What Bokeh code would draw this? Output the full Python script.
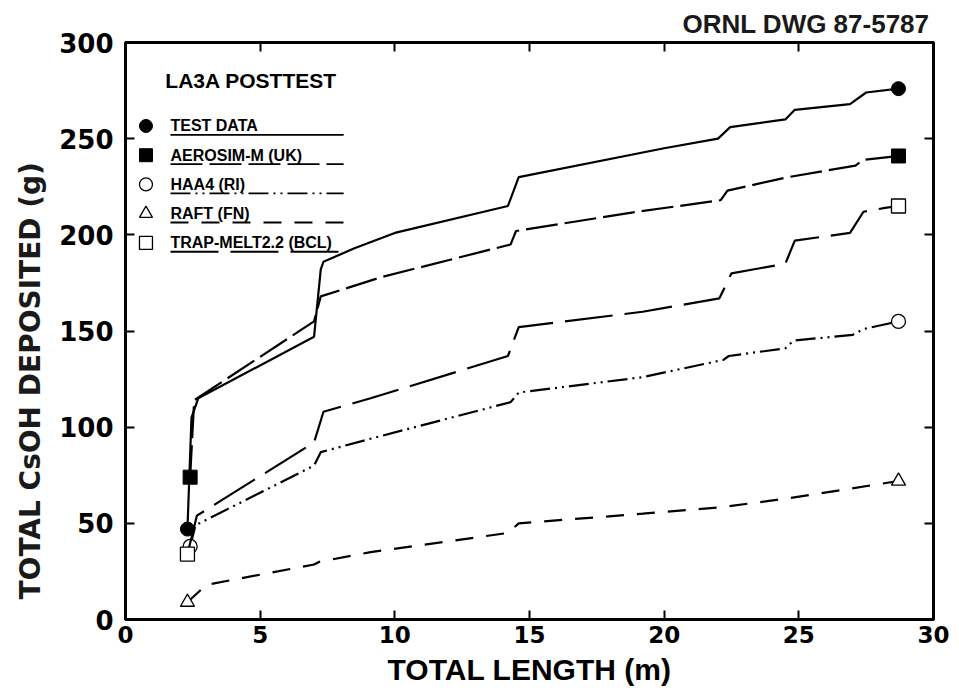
from bokeh.plotting import figure
from bokeh.models import LinearAxis, Range1d, FixedTicker, Title
from bokeh.embed import file_html
from bokeh.resources import INLINE
from bokeh.core.properties import value

# ---- data ----
x_ticks = [0, 5, 10, 15, 20, 25, 30]
y_ticks = [0, 50, 100, 150, 200, 250, 300]

test_x = [2.3, 2.45, 2.7, 7.0, 7.25, 7.35, 8.5, 10.0, 14.2, 14.6, 20.0, 22.0, 22.45, 24.5, 24.85, 26.9, 27.5, 28.7]
test_y = [47, 105, 115, 147, 182, 186, 193, 201, 215, 230, 245, 250, 256, 260, 265, 268, 274, 276]

aero_x = [2.4, 2.55, 7.0, 7.25, 9.5, 14.3, 14.5, 19.0, 22.1, 22.35, 24.6, 27.1, 27.4, 28.7]
aero_y = [74, 114, 155, 168, 178, 195, 202, 212, 218, 223, 230, 236, 239, 241]

haa_x = [2.4, 2.6, 7.0, 7.25, 9.1, 14.3, 14.6, 19.2, 22.2, 22.4, 24.5, 24.8, 27.0, 27.4, 28.7]
haa_y = [38, 49, 80, 87, 94, 113, 118, 126, 135, 137, 141, 145, 148, 151, 155]

raft_x = [2.3, 3.0, 7.0, 7.2, 9.1, 14.2, 14.6, 19.2, 22.2, 24.6, 26.9, 28.7]
raft_y = [9, 18, 28.6, 30, 35, 45, 50, 55, 58.5, 63, 68, 72]

trap_x = [2.3, 2.65, 7.0, 7.35, 9.1, 14.2, 14.6, 19.2, 22.05, 22.5, 24.5, 24.85, 26.9, 27.4, 28.2, 28.7]
trap_y = [34, 54, 92, 108, 115, 137, 152, 160, 167, 180, 185, 197, 201, 212, 214, 215]

series_names = ["TEST DATA", "AEROSIM-M (UK)", "HAA4 (RI)", "RAFT (FN)", "TRAP-MELT2.2 (BCL)"]
legend_title = "LA3A POSTTEST"
drawing_id = "ORNL DWG 87-5787"
x_title = "TOTAL LENGTH (m)"
y_title = "TOTAL CsOH DEPOSITED (g)"

# ---- styles ----
FONT = "Liberation Sans"
styles = [
    dict(dash="solid", marker="circle", fill="black"),
    dict(dash="32 7", marker="square", fill="black"),
    dict(dash="20 5 2 5 2 5", marker="circle", fill="white"),
    dict(dash="18 13", marker="triangle", fill="white"),
    dict(dash="48 12", marker="square", fill="white"),
]
series = [(test_x, test_y), (aero_x, aero_y), (haa_x, haa_y), (raft_x, raft_y), (trap_x, trap_y)]

p = figure(width=952, height=688, x_range=Range1d(0, 30), y_range=Range1d(0, 300),
           output_backend="svg", toolbar_location=None,
           min_border_left=125, min_border_right=19, min_border_top=42, min_border_bottom=68)
p.grid.visible = False
p.background_fill_color = "white"
p.border_fill_color = "white"
p.outline_line_color = "black"
p.outline_line_width = 3

for ax, ticks in ((p.xaxis[0], x_ticks), (p.yaxis[0], y_ticks)):
    ax.ticker = FixedTicker(ticks=ticks)
    ax.major_tick_in = 9
    ax.major_tick_out = 0
    ax.major_tick_line_width = 2
    ax.minor_tick_line_color = None
    ax.axis_line_width = 3
    ax.major_label_text_font_style = "bold"
    ax.major_label_text_color = "black"
    ax.major_label_text_font = "DejaVu Sans"

p.xaxis.axis_label = x_title
p.xaxis.major_label_text_font_size = "23px"
p.xaxis.major_label_standoff = 6
p.xaxis.axis_label_text_font = FONT
p.xaxis.axis_label_text_font_size = "30px"
p.xaxis.axis_label_text_font_style = "bold"
p.xaxis.axis_label_text_color = "black"
p.xaxis.axis_label_standoff = 7

p.yaxis.major_label_text_font_size = "26px"
p.yaxis.major_label_standoff = 12
p.yaxis.major_label_orientation = "horizontal"

for loc, ticks in (("right", y_ticks), ("above", x_ticks)):
    ax = LinearAxis(ticker=FixedTicker(ticks=ticks), major_label_text_font_size="1px",
                    major_label_text_color=None, major_label_standoff=0,
                    major_tick_in=9, major_tick_out=0, major_tick_line_width=2,
                    minor_tick_line_color=None, axis_line_width=3)
    p.add_layout(ax, loc)

# y-axis title: starts a little above the frame bottom, as in the reference
p.add_layout(Title(text=y_title, align="left", offset=20, standoff=20,
                   text_font="DejaVu Sans", text_font_size="28px",
                   text_font_style="bold", text_color="#1a1a1a"), "left")
# drawing number at the top right, pushed to the top of the border
p.add_layout(Title(text=drawing_id, align="right", offset=4, standoff=4,
                   vertical_align="top",
                   text_font=FONT, text_font_size="26px",
                   text_font_style="bold", text_color="#1a1a1a"), "above")

for (xs, ys), st in zip(series, styles):
    p.line(xs, ys, line_color="black", line_width=2.2, line_dash=st["dash"])
    lw = 1.3 if st["fill"] == "white" else 1
    p.scatter([xs[0], xs[-1]], [ys[0], ys[-1]], marker=st["marker"], size=14,
              fill_color=st["fill"], line_color="black", line_width=lw)

# ---- legend block (drawn in data space) ----
leg_marker_x = 0.76
leg_text_x = 1.67
leg_end_x = 8.1
leg_top = 256.6
leg_step = 15.2
p.text([1.48], [280.5], text=[legend_title], text_font=value(FONT), text_font_style="bold",
       text_font_size="21px", text_baseline="middle", text_color="black")
for i, (name, st) in enumerate(zip(series_names, styles)):
    yy = leg_top - leg_step * i
    p.scatter([leg_marker_x], [yy], marker=st["marker"], size=13, fill_color=st["fill"],
              line_color="black", line_width=1.3 if st["fill"] == "white" else 1)
    p.text([leg_text_x], [yy], text=[name], text_font=value(FONT), text_font_style="bold",
           text_font_size="16px", text_baseline="middle", text_color="black")
    p.line([leg_text_x, leg_end_x], [yy - 4.6, yy - 4.6], line_color="black",
           line_width=1.8, line_dash=st["dash"])

open("out.html", "w").write(file_html(p, INLINE))
